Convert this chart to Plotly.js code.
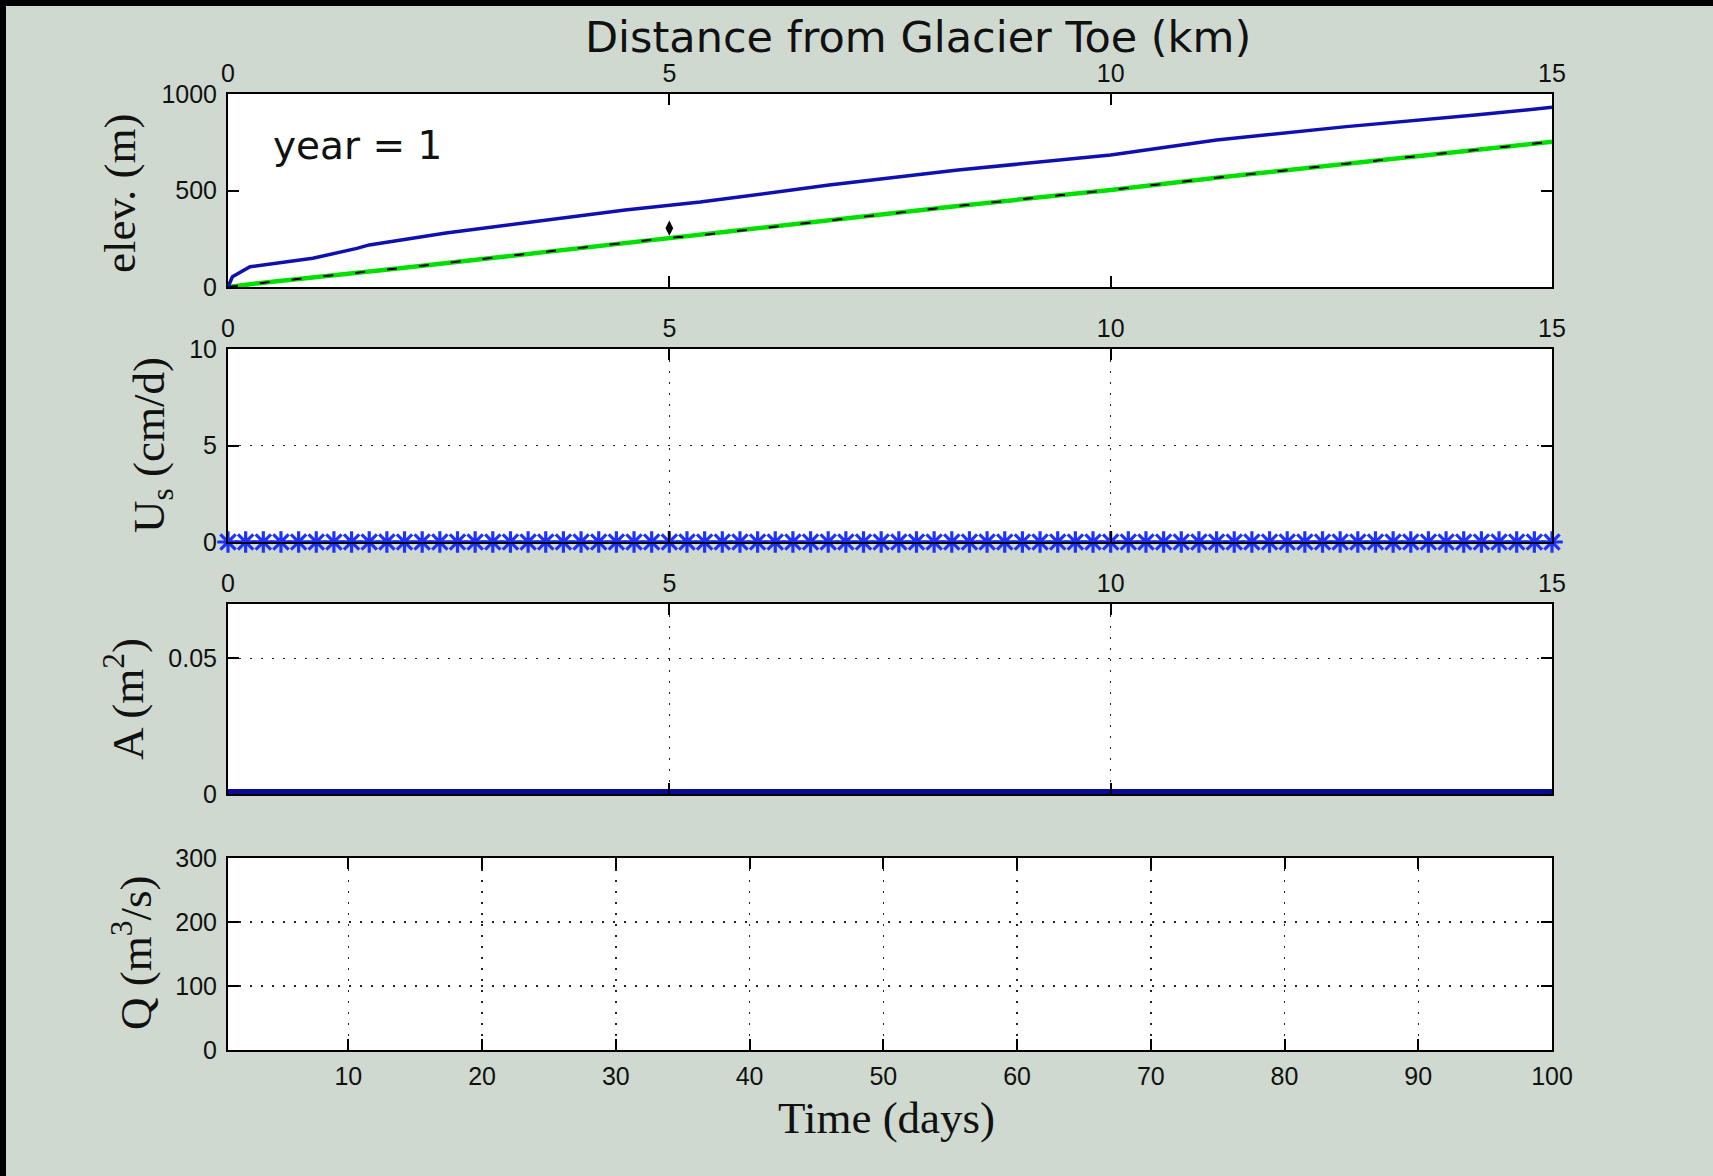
<!DOCTYPE html>
<html>
<head>
<meta charset="utf-8">
<script src="https://cdn.plot.ly/plotly-3.0.1.min.js"></script>
<style>
  html, body { margin: 0; padding: 0; background: #cfd9cf; overflow: hidden; }
  #chart { width: 1713px; height: 1176px; }
</style>
</head>
<body>
<div id="chart"></div>
<script>
// ---- Glacier profile at year 1 ----
// surface elevation (m) along the glacier, distance from toe (km)
const surfaceDist = [0, 0.05, 0.25, 0.5, 0.96, 1.46, 1.6, 2.47, 3.49, 4.5, 5.35, 6.81, 8.27, 10, 11.2, 12.67, 14.13, 15];
const surfaceElev = [0, 53, 105, 120, 149, 200, 218, 280, 338, 399, 440, 528, 606, 684, 762, 831, 891, 931];
// bed elevation (m)
const bedDist = [0, 0.45, 2, 5, 5.35, 8.27, 10, 11.2, 14.13, 15];
const bedElev = [0, 25, 100, 255, 268, 420, 503, 566, 710, 753];
// observation point
const obsDist = [5];
const obsElev = [305];

// surface velocity (cm/d) at model nodes
const nodeDist = [0, 0.2, 0.4, 0.6, 0.8, 1, 1.2, 1.4, 1.6, 1.8, 2, 2.2, 2.4, 2.6, 2.8, 3, 3.2, 3.4, 3.6, 3.8,
  4, 4.2, 4.4, 4.6, 4.8, 5, 5.2, 5.4, 5.6, 5.8, 6, 6.2, 6.4, 6.6, 6.8, 7, 7.2, 7.4, 7.6, 7.8,
  8, 8.2, 8.4, 8.6, 8.8, 9, 9.2, 9.4, 9.6, 9.8, 10, 10.2, 10.4, 10.6, 10.8, 11, 11.2, 11.4, 11.6, 11.8,
  12, 12.2, 12.4, 12.6, 12.8, 13, 13.2, 13.4, 13.6, 13.8, 14, 14.2, 14.4, 14.6, 14.8, 15];
const surfaceVel = [0, 0, 0, 0, 0, 0, 0, 0, 0, 0, 0, 0, 0, 0, 0, 0, 0, 0, 0, 0,
  0, 0, 0, 0, 0, 0, 0, 0, 0, 0, 0, 0, 0, 0, 0, 0, 0, 0, 0, 0,
  0, 0, 0, 0, 0, 0, 0, 0, 0, 0, 0, 0, 0, 0, 0, 0, 0, 0, 0, 0,
  0, 0, 0, 0, 0, 0, 0, 0, 0, 0, 0, 0, 0, 0, 0, 0];
// conduit cross-section area (m^2)
const conduitArea = [0, 0, 0, 0, 0, 0, 0, 0, 0, 0, 0, 0, 0, 0, 0, 0, 0, 0, 0, 0,
  0, 0, 0, 0, 0, 0, 0, 0, 0, 0, 0, 0, 0, 0, 0, 0, 0, 0, 0, 0,
  0, 0, 0, 0, 0, 0, 0, 0, 0, 0, 0, 0, 0, 0, 0, 0, 0, 0, 0, 0,
  0, 0, 0, 0, 0, 0, 0, 0, 0, 0, 0, 0, 0, 0, 0, 0];
// discharge time series (none yet in year 1)
const qTime = [];
const qDischarge = [];

// tick labels
const distTicks = [0, 5, 10, 15];
const elevTicks = [0, 500, 1000];
const velTicks = [0, 5, 10];
const areaTicks = [0, 0.05];
const areaTickText = ['0', '0.05'];
const qTicks = [0, 100, 200, 300];
const timeTicks = [10, 20, 30, 40, 50, 60, 70, 80, 90, 100];

// ---- layout helpers (figure pixels -> paper fractions) ----
const W = 1713, H = 1176;
const fx = p => p / W;
const fy = p => 1 - p / H;
const LEFT = 228, RIGHT = 1552;
const xDom = [fx(LEFT), fx(RIGHT)];

const tickFont = { family: 'Liberation Sans, Arial, sans-serif', size: 25, color: '#111' };
const serif = 'Liberation Serif, Times New Roman, serif';

function xAx(opts) {
  return Object.assign({
    domain: xDom, showline: true, linecolor: '#000', linewidth: 2, mirror: 'ticks',
    ticks: 'inside', ticklen: 11, tickwidth: 2, tickcolor: '#000', zeroline: false,
    tickfont: tickFont, fixedrange: true, tickmode: 'array',
    gridcolor: '#222', gridwidth: 1.5, griddash: '2px,9px'
  }, opts);
}
function yAx(opts) {
  return Object.assign({
    showline: true, linecolor: '#000', linewidth: 2, mirror: 'ticks',
    ticks: 'inside', ticklen: 11, tickwidth: 2, tickcolor: '#000', zeroline: false,
    tickfont: tickFont, fixedrange: true, tickmode: 'array', ticklabelstandoff: 4,
    gridcolor: '#222', gridwidth: 1.5, griddash: '2px,9px'
  }, opts);
}

const traces = [
  { x: bedDist, y: bedElev, xaxis: 'x', yaxis: 'y', mode: 'lines',
    line: { color: '#00e000', width: 4.5 }, hoverinfo: 'skip' },
  { x: bedDist, y: bedElev, xaxis: 'x', yaxis: 'y', mode: 'lines',
    line: { color: '#000', width: 2, dash: '10px,22px' }, hoverinfo: 'skip' },
  { x: surfaceDist, y: surfaceElev, xaxis: 'x', yaxis: 'y', mode: 'lines',
    line: { color: '#1010b0', width: 3.5 }, hoverinfo: 'skip' },
  { x: obsDist, y: obsElev, xaxis: 'x', yaxis: 'y', mode: 'markers',
    marker: { symbol: 'diamond-tall', size: 11, color: '#000' }, hoverinfo: 'skip' },
  { x: nodeDist, y: surfaceVel, xaxis: 'x2', yaxis: 'y2', mode: 'lines+markers', cliponaxis: false,
    line: { color: '#1e32ff', width: 3 },
    marker: { symbol: 'asterisk-open', size: 18, line: { color: '#1e32ff', width: 3.2 } }, hoverinfo: 'skip' },
  { x: nodeDist, y: conduitArea, xaxis: 'x3', yaxis: 'y3', mode: 'lines',
    line: { color: '#0a0a96', width: 10 }, hoverinfo: 'skip' },
  { x: qTime, y: qDischarge, xaxis: 'x4', yaxis: 'y4', mode: 'lines',
    line: { color: '#0000ff', width: 2 }, hoverinfo: 'skip' }
];

const layout = {
  width: W, height: H,
  margin: { l: 0, r: 0, t: 0, b: 0, pad: 0 },
  paper_bgcolor: '#cfd9cf', plot_bgcolor: '#ffffff',
  showlegend: false,
  xaxis: xAx({ anchor: 'y', side: 'top', range: [0, 15], tickvals: distTicks, showgrid: false }),
  yaxis: yAx({ anchor: 'x', domain: [fy(287), fy(94)], range: [0, 1000], tickvals: elevTicks, showgrid: false }),
  xaxis2: xAx({ anchor: 'y2', side: 'top', range: [0, 15], tickvals: distTicks, showgrid: true }),
  yaxis2: yAx({ anchor: 'x2', domain: [fy(542), fy(349)], range: [0, 10], tickvals: velTicks, showgrid: true }),
  xaxis3: xAx({ anchor: 'y3', side: 'top', range: [0, 15], tickvals: distTicks, showgrid: true }),
  yaxis3: yAx({ anchor: 'x3', domain: [fy(794), fy(604)], range: [0, 0.07], tickvals: areaTicks, ticktext: areaTickText, showgrid: true }),
  xaxis4: xAx({ anchor: 'y4', side: 'bottom', range: [1, 100], tickvals: timeTicks, showgrid: true, ticklabelstandoff: 3 }),
  yaxis4: yAx({ anchor: 'x4', domain: [fy(1050), fy(858)], range: [0, 300], tickvals: qTicks, showgrid: true }),
  shapes: [
    { type: 'rect', xref: 'paper', yref: 'paper', x0: 0, x1: 1, y0: fy(6), y1: 1, fillcolor: '#000', line: { width: 0 }, layer: 'above' },
    { type: 'rect', xref: 'paper', yref: 'paper', x0: 0, x1: fx(6), y0: 0, y1: 1, fillcolor: '#000', line: { width: 0 }, layer: 'above' }
  ],
  annotations: [
    { text: 'Distance from Glacier Toe (km)', xref: 'paper', yref: 'paper', x: fx(918), y: fy(37),
      xanchor: 'center', yanchor: 'middle', showarrow: false,
      font: { family: 'DejaVu Sans, sans-serif', size: 43, color: '#111' } },
    { text: 'year = 1', xref: 'paper', yref: 'paper', x: fx(271), y: fy(146),
      xanchor: 'left', yanchor: 'middle', showarrow: false,
      font: { family: 'DejaVu Sans, sans-serif', size: 39, color: '#111' } },
    { text: 'elev. (m)', xref: 'paper', yref: 'paper', x: fx(120), y: fy(193), textangle: -90,
      xanchor: 'center', yanchor: 'middle', showarrow: false,
      font: { family: serif, size: 45, color: '#111' } },
    { text: 'U<sub>s</sub> (cm/d)', xref: 'paper', yref: 'paper', x: fx(152), y: fy(445), textangle: -90,
      xanchor: 'center', yanchor: 'middle', showarrow: false,
      font: { family: serif, size: 45, color: '#111' } },
    { text: 'A (m<sup>2</sup>)', xref: 'paper', yref: 'paper', x: fx(124), y: fy(699), textangle: -90,
      xanchor: 'center', yanchor: 'middle', showarrow: false,
      font: { family: serif, size: 45, color: '#111' } },
    { text: 'Q (m<sup>3</sup>/s)', xref: 'paper', yref: 'paper', x: fx(132), y: fy(953), textangle: -90,
      xanchor: 'center', yanchor: 'middle', showarrow: false,
      font: { family: serif, size: 45, color: '#111' } },
    { text: 'Time (days)', xref: 'paper', yref: 'paper', x: fx(887), y: fy(1118),
      xanchor: 'center', yanchor: 'middle', showarrow: false,
      font: { family: serif, size: 45, color: '#111' } }
  ]
};

Plotly.newPlot('chart', traces, layout, { staticPlot: true, displayModeBar: false });
</script>
</body>
</html>
